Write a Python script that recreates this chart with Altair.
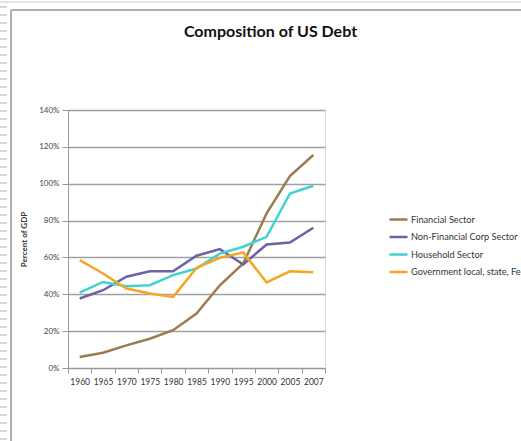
import altair as alt
import pandas as pd

years = ["1960", "1965", "1970", "1975", "1980", "1985", "1990", "1995", "2000", "2005", "2007"]
financial = [6.0, 8.3, 12.3, 15.9, 20.5, 29.5, 44.9, 56.7, 83.9, 104.2, 115.6]
nonfinancial = [37.7, 42.2, 49.5, 52.5, 52.5, 60.9, 64.5, 56.2, 67.0, 68.1, 76.1]
household = [40.9, 46.7, 44.4, 44.9, 50.4, 54.0, 62.1, 65.8, 71.2, 94.7, 98.9]
government = [58.5, 51.3, 43.1, 40.4, 38.6, 54.3, 59.8, 62.7, 46.4, 52.5, 52.0]

series_names = ["Financial Sector", "Non-Financial Corp Sector", "Household Sector",
                "Government local, state, Fed"]
series_colors = ["#9c7b51", "#6c62a6", "#3fd3cf", "#f6a623"]
y_ticks = [0, 20, 40, 60, 80, 100, 120, 140]

rows = []
for name, vals in zip(series_names, [financial, nonfinancial, household, government]):
    for yr, v in zip(years, vals):
        rows.append({"Year": yr, "Value": v, "Series": name})
df = pd.DataFrame(rows)

FONT = "Lato"

lines = alt.Chart(df).mark_line(strokeWidth=2.5).encode(
    x=alt.X("Year:O", sort=years, bandPosition=0.5,
            scale=alt.Scale(type="band", paddingInner=0, paddingOuter=0),
            axis=alt.Axis(title=None, tickBand="extent", labelAngle=0, grid=False,
                          labelFontSize=8.5, labelColor="#333", labelFont=FONT,
                          domainColor="#999", tickColor="#999", tickSize=5,
                          labelPadding=4)),
    y=alt.Y("Value:Q", scale=alt.Scale(domain=[0, 140], nice=False),
            axis=alt.Axis(values=y_ticks, labelExpr="datum.value + '%'",
                          title="Percent of GDP", titleFont=FONT, titleFontSize=8,
                          titleFontWeight="bold", titleColor="#333", titleX=-40,
                          labelFontSize=8, labelColor="#444", labelFont=FONT,
                          gridColor="#a0a0a0", gridWidth=1.3, domainColor="#999",
                          tickColor="#999", tickSize=6, labelPadding=3)),
    color=alt.Color("Series:N", sort=series_names,
                    scale=alt.Scale(domain=series_names, range=series_colors),
                    legend=alt.Legend(title=None, orient="none", legendX=320, legendY=99,
                                      symbolType="stroke", symbolSize=324,
                                      symbolStrokeWidth=2.5, rowPadding=1.5,
                                      labelFontSize=9.2, labelFont=FONT, labelColor="#333",
                                      labelOffset=2, labelLimit=400, padding=0)),
    order=alt.Order("Year:O"),
)

frame_top = alt.Chart(df).mark_rule(color="#b0b0b0", strokeWidth=2).encode(
    x=alt.value(-57), x2=alt.value(460), y=alt.value(-100))
frame_left = alt.Chart(df).mark_rule(color="#b0b0b0", strokeWidth=2).encode(
    x=alt.value(-57), y=alt.value(-100), y2=alt.value(331))
faint_top = alt.Chart(df).mark_rule(color="#e4e4e4", strokeWidth=1).encode(
    x=alt.value(-68), x2=alt.value(460), y=alt.value(-108))
dash_left = alt.Chart(df).mark_rule(color="#d6d6d6", strokeWidth=7, strokeDash=[2, 6]).encode(
    x=alt.value(-64.5), y=alt.value(-104), y2=alt.value(331))

chart = alt.layer(faint_top, dash_left, frame_top, frame_left, lines).properties(
    width=257, height=258,
    title=alt.TitleParams("Composition of US Debt", font=FONT, fontSize=16,
                          fontWeight="bold", color="#111", anchor="middle",
                          frame="group", dx=74, offset=-38),
    autosize=alt.AutoSizeParams(type="none"),
    padding={"left": 68, "top": 110, "right": 196, "bottom": 73},
).configure_view(stroke=None).configure(background="white")

chart.save("out.html", embed_options={"renderer": "svg", "actions": False})
